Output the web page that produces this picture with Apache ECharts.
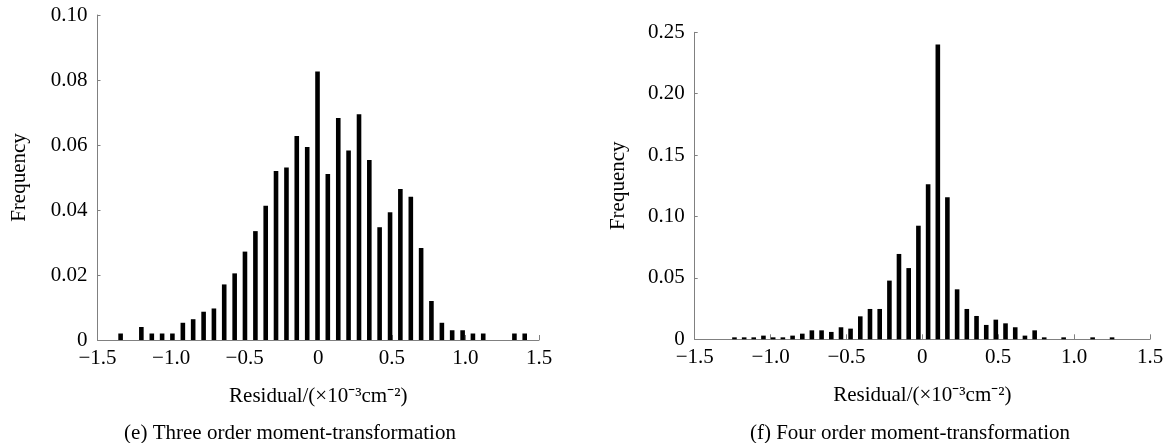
<!DOCTYPE html>
<html><head><meta charset="utf-8">
<script src="https://cdn.jsdelivr.net/npm/echarts@6/dist/echarts.min.js"></script>
<style>html,body{margin:0;padding:0;background:#fff}#c{width:1175px;height:443px}</style>
</head><body><div id="c"></div>
<script>
// (e) Three order moment-transformation: bin centres and frequencies
const binsE = [-1.343,-1.272,-1.202,-1.131,-1.061,-0.991,-0.920,-0.850,-0.779,-0.709,
  -0.639,-0.568,-0.498,-0.427,-0.357,-0.287,-0.216,-0.146,-0.075,-0.005,
  0.065,0.136,0.206,0.277,0.347,0.417,0.488,0.558,0.629,0.699,
  0.769,0.840,0.910,0.981,1.051,1.121,1.192,1.262,1.333,1.403];
const freqE = [0.002,0,0.004,0.002,0.002,0.002,0.0053,0.0064,0.0087,0.0097,
  0.0171,0.0205,0.0272,0.0335,0.0413,0.052,0.0531,0.0628,0.0594,0.0826,
  0.0511,0.0683,0.0583,0.0695,0.0554,0.0347,0.0393,0.0465,0.0441,0.0283,
  0.012,0.0053,0.003,0.003,0.002,0.002,0,0,0.002,0.002];
// (f) Four order moment-transformation
const binsF = [-1.238,-1.174,-1.111,-1.047,-0.983,-0.919,-0.855,-0.791,-0.728,-0.664,
  -0.600,-0.536,-0.473,-0.409,-0.345,-0.281,-0.217,-0.154,-0.090,-0.026,
  0.038,0.102,0.165,0.229,0.293,0.357,0.421,0.484,0.548,0.612,
  0.676,0.740,0.803,0.867,0.931,0.995,1.059,1.122,1.186,1.250];
const freqF = [0.0016,0.0016,0.0016,0.003,0.0016,0.0016,0.003,0.0046,0.0073,0.0073,
  0.006,0.0098,0.0087,0.0187,0.0247,0.0247,0.0478,0.0695,0.058,0.0925,
  0.1262,0.240,0.1156,0.0407,0.0247,0.019,0.0117,0.016,0.013,0.0098,
  0.003,0.0073,0.0016,0,0.0016,0,0,0.0016,0,0.0016];
const xTickLabels = ['\u22121.5','\u22121.0','\u22120.5','0','0.5','1.0','1.5'];
const yTickLabelsE = ['0','0.02','0.04','0.06','0.08','0.10'];
const yTickLabelsF = ['0','0.05','0.10','0.15','0.20','0.25'];
const xName = 'Residual/(\u00d710\u207b\u00b3cm\u207b\u00b2)';
const yName = 'Frequency';
const captions = ['(e) Three order moment-transformation', '(f) Four order moment-transformation'];

const FONT = "'Liberation Serif', 'Times New Roman', serif";
const FS = 21;
const AXC = '#808080';
const txt = {color:'#000', fontFamily:FONT, fontSize:FS};

function xAxis(gi){
  return {
    gridIndex:gi, type:'value', min:-1.5, max:1.5, interval:0.5,
    axisLine:{show:true, onZero:false, lineStyle:{color:AXC, width:1}},
    axisTick:{show:true, inside:true, length:5, lineStyle:{color:AXC}},
    axisLabel:Object.assign({margin:8, formatter:v=>xTickLabels[Math.round((v+1.5)/0.5)]}, txt),
    splitLine:{show:false},
    name:xName, nameLocation:'middle', nameGap:46, nameTextStyle:Object.assign({}, txt)
  };
}
function yAxis(gi, max, interval, labels, gap){
  return {
    gridIndex:gi, type:'value', min:0, max:max, interval:interval,
    axisLine:{show:true, onZero:false, lineStyle:{color:AXC, width:1}},
    axisTick:{show:true, inside:true, length:3, lineStyle:{color:AXC}},
    axisLabel:Object.assign({margin:10, formatter:v=>labels[Math.round(v/interval)]}, txt),
    splitLine:{show:false},
    name:yName, nameLocation:'middle', nameGap:gap, nameRotate:90, nameTextStyle:Object.assign({}, txt)
  };
}
function barSeries(gi, bins, freq){
  return {
    type:'bar', xAxisIndex:gi, yAxisIndex:gi, barWidth:4.6,
    data:bins.map((x,i)=>[x, freq[i]]),
    itemStyle:{color:'#000'}, silent:true
  };
}
const chart = echarts.init(document.getElementById('c'), null, {renderer:'canvas'});
chart.setOption({
  animation:false,
  backgroundColor:'#fff',
  grid:[
    {left:97.5, top:15, width:441.5, height:325},
    {left:694.7, top:32.3, width:455.3, height:307}
  ],
  xAxis:[xAxis(0), xAxis(1)],
  yAxis:[yAxis(0, 0.1, 0.02, yTickLabelsE, 68), yAxis(1, 0.25, 0.05, yTickLabelsF, 66)],
  series:[barSeries(0, binsE, freqE), barSeries(1, binsF, freqF)],
  graphic:[
    {type:'text', x:290, y:433, style:{text:captions[0], textAlign:'center', textVerticalAlign:'middle', fill:'#000', font:FS+'px '+FONT}},
    {type:'text', x:910, y:433, style:{text:captions[1], textAlign:'center', textVerticalAlign:'middle', fill:'#000', font:FS+'px '+FONT}}
  ]
});
</script></body></html>
